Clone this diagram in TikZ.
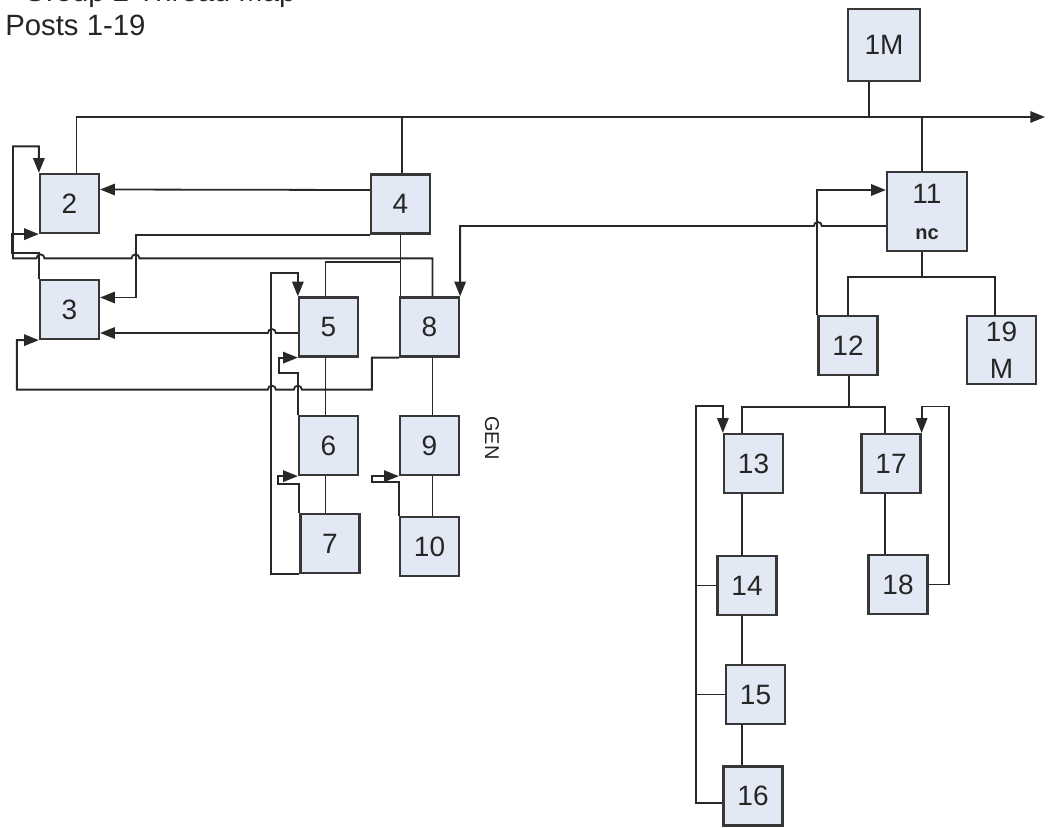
\documentclass[tikz,border=0pt]{standalone}
\usepackage{fontspec}
\setmainfont{Liberation Sans}
\usetikzlibrary{arrows.meta,calc}
\definecolor{boxfill}{RGB}{227,233,244}
\definecolor{boxline}{RGB}{55,55,55}
\definecolor{wire}{RGB}{40,40,40}
\tikzset{
  post/.style={draw=boxline, fill=boxfill, line width=1.7pt, inner sep=0pt,
    minimum width=44.25pt, minimum height=44.25pt, align=center,
    font=\fontsize{21}{28}\selectfont, text=black!85},
  link/.style={draw=wire, line width=1.35pt},
  reply/.style={link, -{Triangle[length=11pt,width=8.5pt]}},
}

\begin{document}
\begin{tikzpicture}[x=0.75pt,y=-0.75pt]
\useasboundingbox (0,0) rectangle (1055,827);
% heading
\node[anchor=base west, inner sep=0pt, font=\fontsize{22}{26}\selectfont, text=black!85] (heading) at (23,2) {Group 2 Thread Map};
\node[anchor=base west, inner sep=0pt, font=\fontsize{22}{26}\selectfont, text=black!85] (title) at (5,36) {Posts 1-19};

% posts
\node[post, minimum width=54pt, minimum height=54pt] (p1) at (884,45) {1M};
\node[post] (p2) at (69.5,203.5) {2};
\node[post] (p3) at (69.5,309.5) {3};
\node[post] (p4) at (400.5,204) {4};
\node[post] (p5) at (328.5,327) {5};
\node[post] (p6) at (328.5,445.5) {6};
\node[post] (p7) at (330,543.5) {7};
\node[post] (p8) at (429.5,327) {8};
\node[post] (p9) at (429.5,445.5) {9};
\node[post] (p10) at (429.5,546.5) {10};
\node[post, minimum width=60pt, minimum height=59pt, font=\fontsize{21}{27}\selectfont] (p11) at (927,211.5) {11\\{\bfseries\fontsize{15}{15}\selectfont nc}};
\node[post] (p12) at (848,345.5) {12};
\node[post] (p13) at (753.5,463.5) {13};
\node[post] (p14) at (747,585.5) {14};
\node[post] (p15) at (755.5,694.5) {15};
\node[post] (p16) at (753,796) {16};
\node[post] (p17) at (891,463.5) {17};
\node[post] (p18) at (898,584.5) {18};
\node[post, minimum width=52pt, minimum height=51pt] (p19) at (1001.5,350) {19\\M};
\node[rotate=-90, font=\fontsize{15}{18}\selectfont, text=black!85] (gen) at (492,438) {GEN};

% main thread line
\coordinate (mainend) at (1045,117);
\draw[reply] ($(p2.north)+(7,0)$) |- (mainend);
\draw[link] ($(p1.south)+(-15,0)$) -- ++(0,36);
\draw[link] ($(p4.north)+(1.5,0)$) -- ++(0,-57);
\draw[link] ($(p11.south |- p11.north)+(-5,0)$) -- ++(0,-55);

% left group
\draw[reply] ($(p4.west)+(0,-14)$) -- ($(p2.east)+(0,-14)$);
\draw[reply] (p4.south west) -| ($(p3.east)+(36,-12)$) -- ($(p3.east)+(0,-12)$);
\draw[reply] ($(p8.north)+(3,0)$) -- ++(0,-38) -- ++(-293,0)
  arc[start angle=0, end angle=180, radius=3pt] -- ++(-87,0)
  arc[start angle=0, end angle=180, radius=3pt] -- ++(-23.5,0) -- ++(0,-112) -| (p2.north west);
\draw[reply] (p3.north west) -- ++(0,-26) -- ++(-27,0) |- (p2.south west);
\draw[reply] ($(p5.west)+(0,6)$) -- ++(-22,0)
  arc[start angle=0, end angle=180, radius=3pt] -- ($(p3.east)+(0,23.5)$);
\draw[reply] (p8.south west) -- ++(-27,0) -- ++(0,32) -- ++(-70,0)
  arc[start angle=0, end angle=180, radius=3pt] -- ++(-18,0)
  arc[start angle=0, end angle=180, radius=3pt] -- ++(-251,0) |- (p3.south west);
\draw[link] (p4.south) -- (p4.south |- p8.north);
\draw[link] (p4.south) -- ++(0,27) -| ($(p5.north)+(-3,0)$);
\draw[link] ($(p5.south)+(-3,0)$) -- ($(p6.north)+(-3,0)$);
\draw[link] ($(p6.south)+(-3,0)$) -- ($(p7.north)+(-4.5,0)$);
\draw[reply] (p7.south west) -- ++(-28,0) -- ++(0,-301) -| (p5.north west);
\draw[reply] (p6.north west) -- ++(0,-42) -- ++(-19,0) |- (p5.south west);
\draw[reply] (p7.north west) -- ++(0,-29) -- ++(-21,0) |- (p6.south west);
\draw[link] ($(p8.south)+(3,0)$) -- ($(p9.north)+(3,0)$);
\draw[link] ($(p9.south)+(3,0)$) -- ($(p10.north)+(3,0)$);
\draw[reply] (p10.north west) -- ++(0,-34) -- ++(-27,0) |- (p9.south west);

% right group
\draw[reply] ($(p11.west)+(0,14.5)$) -- ++(-64,0)
  arc[start angle=0, end angle=180, radius=3pt] -| (p8.north east);
\draw[reply] (p12.north west) |- ($(p11.west)+(0,-21.5)$);
\draw[link] ($(p11.south)+(-5,0)$) -- ++(0,25) -| (p12.north);
\draw[link] ($(p11.south)+(-5,0)$) -- ++(0,25) -| ($(p19.north)+(-6.5,0)$);
\draw[link] ($(p12.south)+(1,0)$) -- ++(0,31) -| ($(p13.north)+(-11.5,0)$);
\draw[link] ($(p12.south)+(1,0)$) -- ++(0,31) -| ($(p17.north)+(-6,0)$);
\draw[link] ($(p13.south)+(-11.5,0)$) -- ($(p14.north)+(-5,0)$);
\draw[link] ($(p14.south)+(-5,0)$) -- ($(p15.north)+(-13.5,0)$);
\draw[link] ($(p15.south)+(-13.5,0)$) -- ($(p16.north)+(-11,0)$);
\draw[reply] ($(p16.west)+(0,7)$) -| ($(p13.north west)+(-27,-27)$) -| (p13.north west);
\draw[link] (p14.west) -- ++(-20,0);
\draw[link] (p15.west) -- ++(-29,0);
\draw[link] ($(p17.south)+(-6,0)$) -- ($(p18.north)+(-13,0)$);
\draw[reply] (p18.east) -- ++(20,0) -- ++(0,-178) -| (p17.north east);
\end{tikzpicture}
\end{document}
